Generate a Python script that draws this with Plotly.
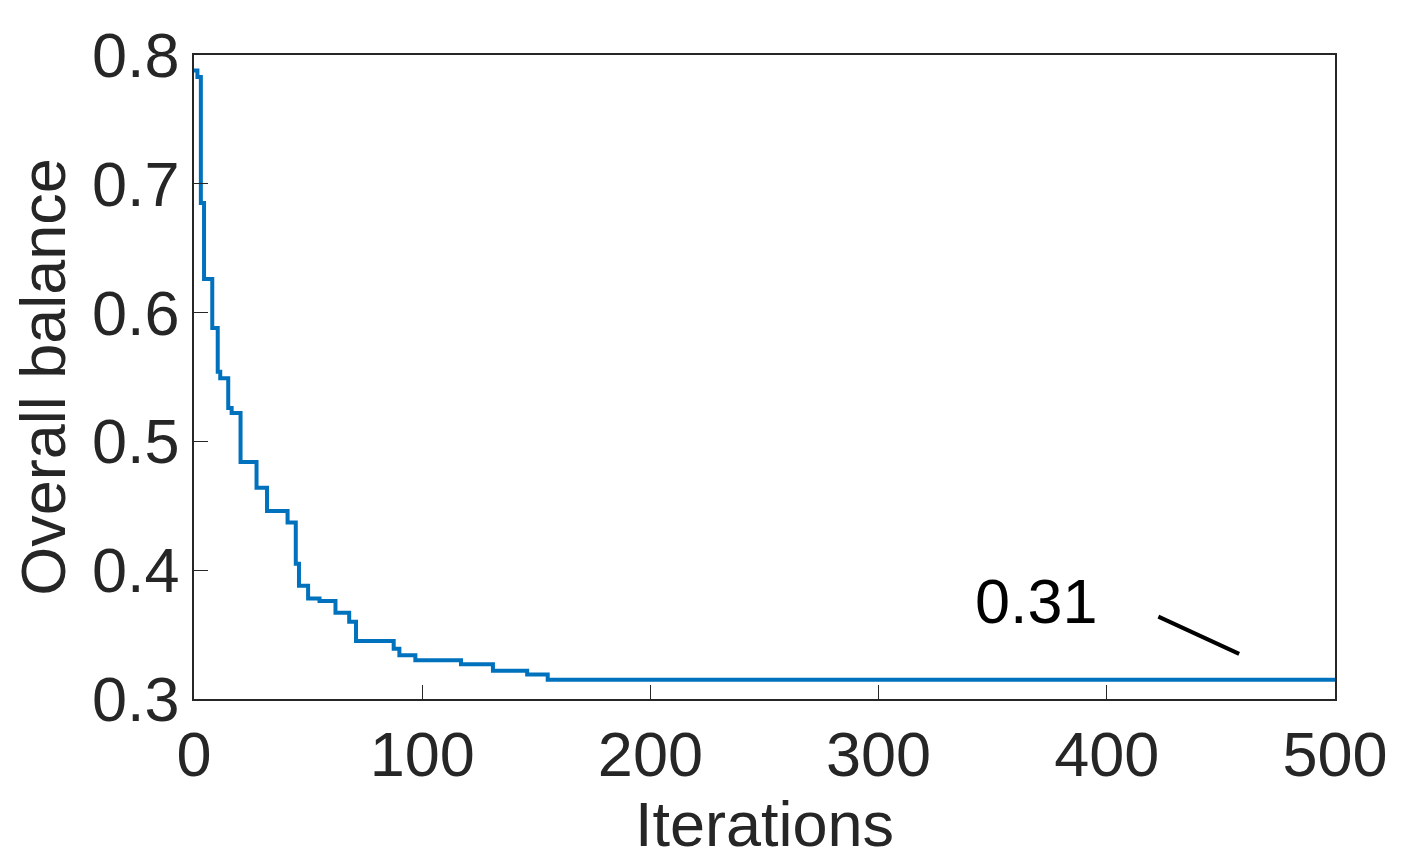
import plotly.graph_objects as go

iter_steps = [0, 1.5, 3, 4.4, 8, 10.4, 11.5, 15, 16.5, 20.4, 27.4, 32, 41, 44.6, 46, 50, 55, 62, 68, 71, 87.5, 90, 97, 117, 131, 146, 155, 500]
balance_steps = [0.788, 0.783, 0.685, 0.626, 0.588, 0.554, 0.549, 0.526, 0.522, 0.484, 0.464, 0.446, 0.437, 0.405, 0.388, 0.378, 0.376, 0.367, 0.360, 0.345, 0.339, 0.334, 0.330, 0.327, 0.322, 0.319, 0.315, 0.315]

fig = go.Figure(go.Scatter(x=iter_steps, y=balance_steps, mode="lines", line_shape="hv",
                           line=dict(color="#0072BD", width=4)))
font = dict(family="Liberation Sans, Arial", size=63, color="#262626")
axcommon = dict(showgrid=False, zeroline=False, mirror=True, showline=True, linecolor="#262626",
                linewidth=1.5, ticks="inside", ticklen=14, tickcolor="#262626", tickfont=font)
fig.update_xaxes(range=[0, 500], tickvals=[0, 100, 200, 300, 400, 500],
                 title=dict(text="Iterations", font=font, standoff=0), **axcommon)
fig.update_yaxes(range=[0.3, 0.8], tickvals=[0.3, 0.4, 0.5, 0.6, 0.7, 0.8], tickformat=".1f",
                 title=dict(text="Overall balance", font=font, standoff=8), **axcommon)
fig.add_annotation(x=369, y=0.376, text="0.31", showarrow=False, font=dict(family="Liberation Sans, Arial", size=63, color="black"))
fig.add_shape(type="line", x0=422.6, y0=0.364, x1=458, y1=0.335, line=dict(color="black", width=4))
fig.update_layout(width=1411, height=864, margin=dict(l=186, r=84, t=41, b=173),
                  plot_bgcolor="white", paper_bgcolor="white", showlegend=False)
fig.write_html("out.html")
